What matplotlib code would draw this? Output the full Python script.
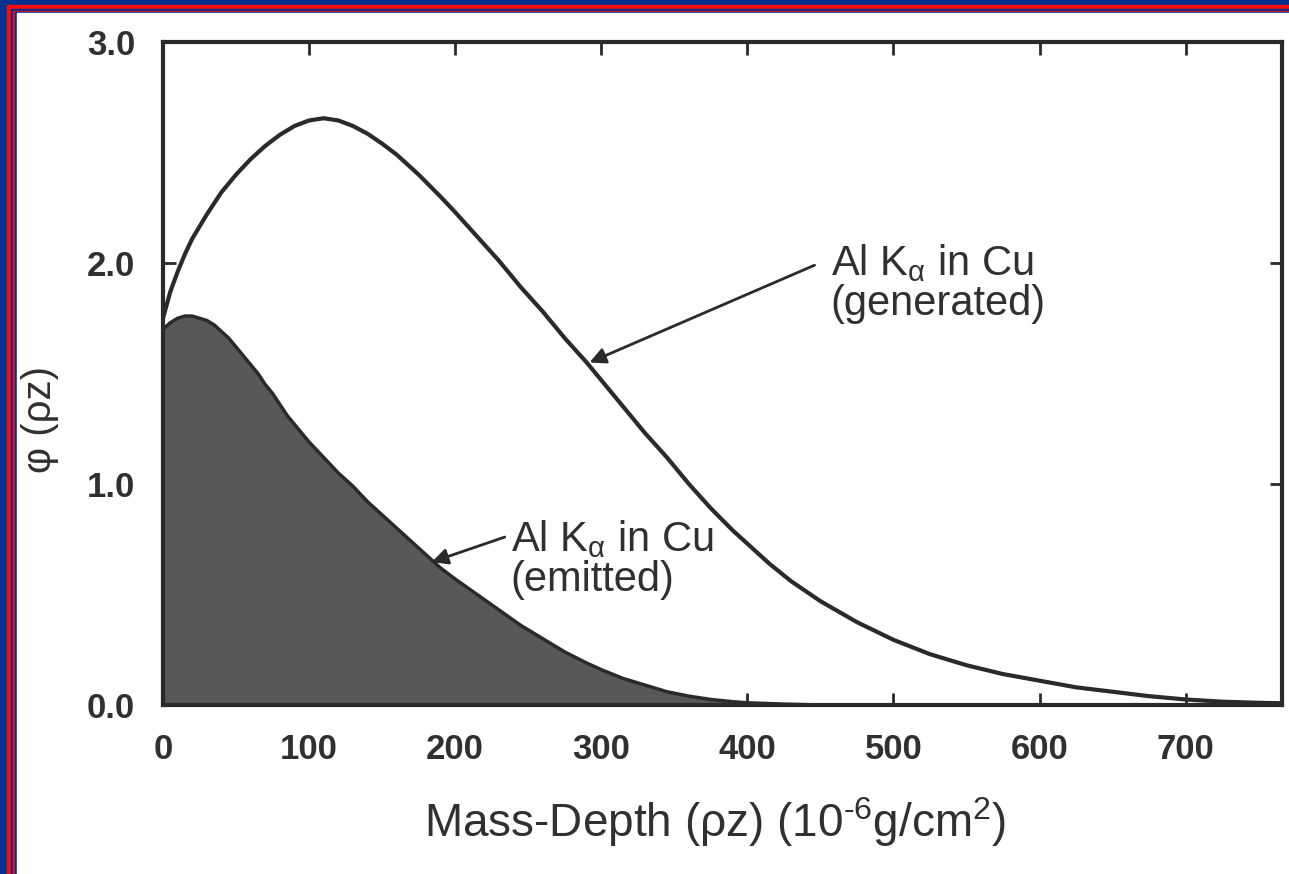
import matplotlib
matplotlib.use("Agg")
import matplotlib.pyplot as plt
from matplotlib.patches import Rectangle

# ---- data ----
gen_x = [0, 5, 10, 15, 20, 30, 40, 50, 60, 70, 80, 90, 100, 110, 120, 130, 140,
         150, 160, 175, 190, 200, 215, 230, 245, 260, 275, 290, 300, 315, 330,
         345, 360, 375, 390, 400, 415, 430, 450, 475, 500, 525, 550, 575, 600,
         625, 650, 675, 700, 725, 750, 766]
gen_y = [1.75, 1.87, 1.96, 2.04, 2.11, 2.22, 2.32, 2.40, 2.47, 2.53, 2.58, 2.62,
         2.645, 2.655, 2.645, 2.62, 2.585, 2.54, 2.49, 2.40, 2.30, 2.23, 2.12,
         2.01, 1.89, 1.78, 1.66, 1.55, 1.47, 1.35, 1.23, 1.12, 1.00, 0.89, 0.79,
         0.73, 0.64, 0.56, 0.47, 0.375, 0.295, 0.23, 0.18, 0.14, 0.11, 0.08, 0.06,
         0.04, 0.025, 0.015, 0.01, 0.008]
emi_x = [0, 5, 10, 15, 20, 25, 30, 35, 40, 45, 50, 55, 60, 65, 70, 75, 80, 85,
         90, 95, 100, 110, 120, 130, 140, 150, 160, 170, 180, 190, 200, 215,
         230, 245, 260, 275, 290, 300, 315, 330, 345, 360, 375, 390, 400, 425,
         450, 766]
emi_y = [1.70, 1.73, 1.75, 1.76, 1.76, 1.75, 1.74, 1.72, 1.69, 1.66, 1.62, 1.58,
         1.54, 1.50, 1.45, 1.41, 1.36, 1.31, 1.27, 1.23, 1.19, 1.12, 1.05, 0.99,
         0.92, 0.86, 0.80, 0.74, 0.68, 0.62, 0.57, 0.50, 0.43, 0.36, 0.30, 0.24,
         0.19, 0.16, 0.12, 0.09, 0.06, 0.04, 0.025, 0.015, 0.01, 0.004, 0.0, 0.0]
x_ticks = [0, 100, 200, 300, 400, 500, 600, 700]
y_ticks = [0.0, 1.0, 2.0, 3.0]
gen_label = "Al K$_{\\mathrm{\\alpha}}$ in Cu\n(generated)"
emi_label = "Al K$_{\\mathrm{\\alpha}}$ in Cu\n(emitted)"

plt.rcParams['font.family'] = ['Liberation Sans', 'DejaVu Sans']
plt.rcParams['mathtext.fontset'] = 'custom'
plt.rcParams['mathtext.rm'] = 'Liberation Sans'
plt.rcParams['mathtext.it'] = 'Liberation Sans:italic'
plt.rcParams['mathtext.bf'] = 'Liberation Sans:bold'

W, H = 1289, 874
fig = plt.figure(figsize=(W / 100, H / 100), dpi=100)
fig.patch.set_facecolor('white')

# ---- frame (left and top border stripes) ----
def band(xpx, ypx, color):
    fig.patches.append(Rectangle((xpx / W, -0.1), 1.2, 1.1 - ypx / H,
                                 transform=fig.transFigure, color=color,
                                 zorder=-10, figure=fig))
band(0, 0, '#02308f')
band(7, 5, '#ff0a0a')
band(11, 9, '#02308f')
band(13, 11, '#ff0a0a')
band(15, 12.5, '#02308f')
band(16.5, 13.5, 'white')

ax = fig.add_axes([163 / W, 1 - 705 / H, (1282 - 163) / W, (705 - 42) / H])
ax.set_facecolor('none')

ink = '#2a2a2a'
txt = '#303030'
ax.fill_between(emi_x, emi_y, 0, color='#585858', lw=0, zorder=2)
ax.plot(emi_x, emi_y, color=ink, lw=2.5, zorder=3, solid_joinstyle='round')
ax.plot(gen_x, gen_y, color=ink, lw=3, zorder=3, solid_joinstyle='round')

ax.set_xlim(0, 766)
ax.set_ylim(0, 3.0)
ax.set_xticks(x_ticks)
ax.set_yticks(y_ticks)
ax.set_xticklabels([str(v) for v in x_ticks])
ax.set_yticklabels([f"{v:.1f}" for v in y_ticks])
for s in ax.spines.values():
    s.set_linewidth(3)
    s.set_color(ink)
ax.tick_params(direction='in', length=9, width=2, color=ink, top=True, right=True,
               labelsize=25, labelcolor=txt, pad=20)
for lab in ax.get_xticklabels() + ax.get_yticklabels():
    lab.set_fontweight('bold')

ax.set_xlabel("Mass-Depth (\u03c1z) (10$^{\\text{-6}}$g/cm$^{\\mathrm{2}}$)",
              fontsize=33, color=txt)
ax.xaxis.set_label_coords(0.493, -0.176)
ax.xaxis.label.set_va('center')
ax.set_ylabel("\u03c6 (\u03c1z)", fontsize=29, color=txt)
ax.yaxis.set_label_coords(-0.11, 0.43)
ax.yaxis.label.set_va('center')

arrow = dict(arrowstyle='-|>', color=ink, lw=2, mutation_scale=24,
             shrinkA=0, shrinkB=0)
ax.text(457, 2.095, gen_label, fontsize=30, color=txt, ha='left', va='top',
        linespacing=1.0)
ax.annotate("", xy=(292, 1.55), xytext=(446, 1.99), arrowprops=arrow)
ax.text(238, 0.845, emi_label, fontsize=30, color=txt, ha='left', va='top',
        linespacing=1.0)
ax.annotate("", xy=(184, 0.647), xytext=(234, 0.76), arrowprops=arrow)

fig.savefig("out.png", dpi=100)
